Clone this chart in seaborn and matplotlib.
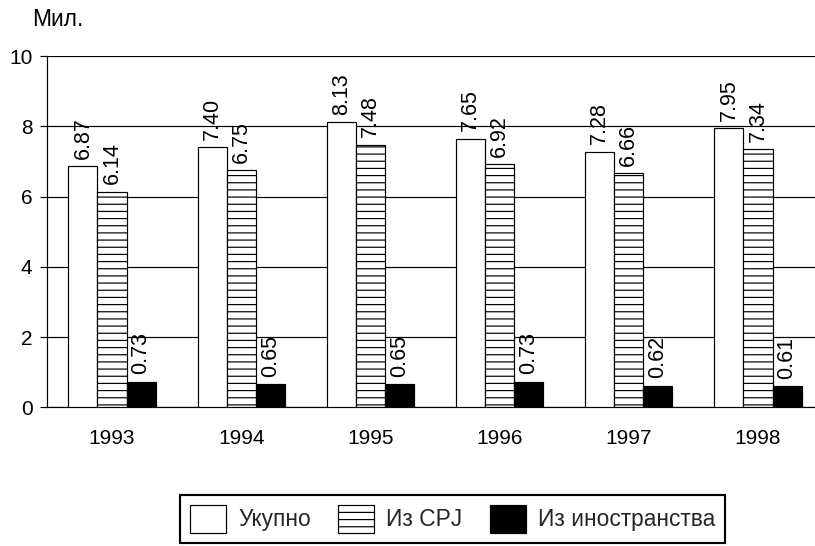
import matplotlib
matplotlib.use("Agg")
import matplotlib.pyplot as plt
from matplotlib.patches import Patch
import seaborn as sns
import pandas as pd

# Visitor figures per year (millions)
years = ["1993", "1994", "1995", "1996", "1997", "1998"]
series_names = ["Укупно", "Из СРЈ", "Из иностранства"]
total = [6.87, 7.40, 8.13, 7.65, 7.28, 7.95]
from_frj = [6.14, 6.75, 7.48, 6.92, 6.66, 7.34]
from_abroad = [0.73, 0.65, 0.65, 0.73, 0.62, 0.61]
y_ticks = [0, 2, 4, 6, 8, 10]
unit_label = "Мил."

sns.set_theme(style="white")
plt.rcParams["font.family"] = ["Liberation Sans", "DejaVu Sans"]
plt.rcParams["hatch.linewidth"] = 1.0
plt.rcParams["hatch.color"] = "black"

DPI = 86
W, H = 815, 546
FS_TICK = 17.5
FS_VAL = 18
FS_BIG = 19
fig = plt.figure(figsize=(W / DPI, H / DPI), dpi=DPI, facecolor="white")
ax = fig.add_axes([47.4 / W, 138.7 / H, 775.2 / W, 351.3 / H])

df = pd.DataFrame({
    "year": years * 3,
    "value": total + from_frj + from_abroad,
    "series": [s for s in series_names for _ in years],
})

sns.barplot(data=df, x="year", y="value", hue="series", hue_order=series_names,
            palette=["white", "white", "black"], saturation=1,
            edgecolor="black", linewidth=1.0, width=0.6735,
            legend=False, ax=ax, zorder=3)

# horizontal stripes for the domestic series
for bar in ax.containers[1]:
    bar.set_hatch("--")
    bar.set_facecolor("white")

for cont, vals in zip(ax.containers, [total, from_frj, from_abroad]):
    ax.bar_label(cont, labels=[f"{v:.2f}" for v in vals], rotation=90,
                 padding=6, fontsize=FS_VAL, color="black")

ax.set_xlim(-0.5, 5.5)
ax.set_ylim(0, 10)
ax.set_yticks(y_ticks)
ax.set_xlabel("")
ax.set_ylabel("")
ax.set_axisbelow(True)
ax.yaxis.grid(True, color="black", linewidth=1.0)
ax.xaxis.grid(False)

for side in ["top", "right"]:
    ax.spines[side].set_visible(False)
for side in ["left", "bottom"]:
    ax.spines[side].set_color("black")
    ax.spines[side].set_linewidth(1.0)

ax.tick_params(axis="y", left=True, length=6, width=1.0, color="black",
               direction="out", pad=6.5, labelsize=FS_TICK, labelcolor="black")
ax.tick_params(axis="x", bottom=False, length=0, pad=18,
               labelsize=FS_TICK, labelcolor="black")

fig.text(32 / W, 1 - 25.7 / H, unit_label, ha="left", va="baseline",
         fontsize=FS_BIG, color="black")

handles = [
    Patch(facecolor="white", edgecolor="black", linewidth=1.0),
    Patch(facecolor="white", edgecolor="black", linewidth=1.0, hatch="--"),
    Patch(facecolor="black", edgecolor="black", linewidth=1.0),
]
leg = fig.legend(handles, series_names, ncol=3, loc="center",
                 bbox_to_anchor=(452.5 / W, 27 / H), frameon=True,
                 fancybox=False, edgecolor="black", framealpha=1,
                 handlelength=1.59, handleheight=1.5, handletextpad=0.53,
                 columnspacing=1.2, borderpad=0.45, borderaxespad=0,
                 fontsize=FS_BIG)
leg.get_frame().set_linewidth(1.8)

fig.savefig("out.png", dpi=DPI, facecolor="white")
